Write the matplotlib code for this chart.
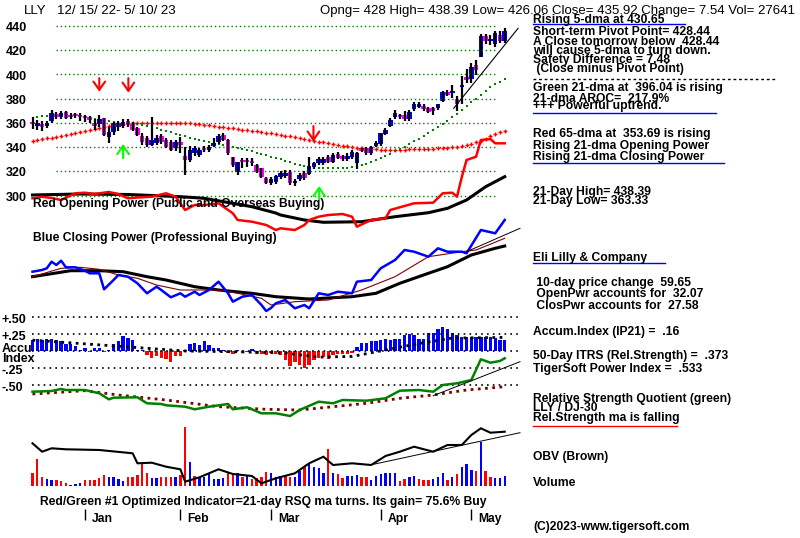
import matplotlib
matplotlib.use("Agg")
import matplotlib.pyplot as plt
from matplotlib.lines import Line2D

# ---- data (LLY daily, 12/15/22 - 5/10/23, 100 sessions) ----
opens = [360.3, 357.5, 358.4, 357.5, 361.9, 367.4, 364.7, 369.3, 366.6, 367.4,
         366.6, 365.8, 364.7, 360.3, 359.2, 363.8, 348.7, 352.9, 356.4, 357.5,
         361.9, 359.2, 355.6, 349.3, 347.4, 341.9, 343.2, 349.3, 346.0, 344.6,
         339.1, 343.2, 332.8, 329.5, 335.0, 333.6, 339.1, 337.7, 341.0, 344.6,
         350.1, 346.0, 331.7, 319.9, 328.5, 328.3, 328.1, 325.4, 322.6, 314.4,
         310.5, 311.0, 315.7, 316.3, 319.9, 310.2, 313.5, 318.5, 318.0, 323.4,
         326.7, 326.7, 332.2, 328.1, 334.2, 332.8, 330.1, 332.2, 326.7, 338.3,
         339.1, 335.5, 341.0, 342.7, 350.9, 357.8, 364.7, 366.6, 366.6, 363.0,
         371.3, 373.5, 374.0, 372.6, 371.3, 372.1, 378.4, 385.9, 385.0, 379.8,
         389.8, 398.2, 396.0, 407.8, 414.7, 431.8, 427.5, 425.2, 432.6, 428.0]
closes = [359.2, 360.3, 357.0, 360.3, 368.0, 364.7, 368.0, 363.8, 365.2, 365.8,
          364.7, 363.8, 362.5, 357.5, 363.0, 350.1, 352.9, 359.7, 359.7, 361.1,
          358.4, 354.2, 350.1, 344.6, 341.9, 346.0, 347.4, 344.6, 340.5, 337.7,
          344.6, 342.2, 329.5, 337.7, 339.1, 337.7, 337.7, 340.5, 343.8, 349.3,
          346.0, 335.0, 325.4, 328.1, 327.8, 327.5, 327.0, 319.9, 315.7, 310.8,
          314.0, 316.0, 318.5, 319.0, 310.2, 312.4, 317.1, 314.4, 324.5, 326.7,
          330.6, 330.0, 328.1, 333.6, 330.9, 330.6, 332.8, 336.4, 335.0, 337.2,
          335.5, 339.9, 343.8, 351.5, 354.2, 362.5, 368.5, 365.2, 363.0, 369.4,
          375.4, 374.8, 371.3, 369.4, 370.2, 375.4, 385.9, 383.1, 385.5, 375.7,
          390.5, 395.4, 406.5, 403.7, 431.8, 427.9, 428.5, 434.0, 427.9, 435.92]
highs = [364.7, 362.5, 362.0, 362.0, 370.7, 369.0, 369.5, 370.0, 368.0, 368.5,
         368.0, 367.0, 366.0, 363.0, 366.5, 364.0, 357.0, 361.0, 362.0, 363.0,
         363.0, 361.0, 357.0, 351.5, 349.0, 365.2, 350.0, 351.0, 348.0, 346.0,
         346.0, 348.7, 340.5, 341.0, 341.0, 339.0, 341.0, 342.0, 347.4, 351.0,
         351.5, 347.0, 332.2, 328.1, 330.9, 330.9, 330.9, 326.0, 323.0, 315.7,
         315.5, 317.0, 320.0, 321.0, 321.0, 314.0, 318.5, 320.0, 332.2, 328.0,
         332.0, 332.0, 334.0, 335.0, 336.0, 334.0, 335.0, 338.0, 336.4, 339.0,
         340.0, 341.0, 345.0, 352.0, 356.0, 364.0, 371.0, 367.5, 370.0, 371.0,
         377.0, 377.0, 376.0, 373.5, 373.0, 376.0, 386.6, 387.0, 391.3, 382.3,
         398.8, 404.2, 409.2, 412.0, 433.4, 433.4, 432.6, 436.2, 436.2, 438.39]
lows = [354.8, 354.2, 353.0, 356.0, 360.0, 363.0, 363.5, 363.0, 363.0, 364.0,
        362.0, 361.0, 360.0, 354.2, 357.0, 349.0, 343.2, 350.0, 353.0, 356.0,
        357.0, 353.0, 349.0, 341.9, 340.5, 341.0, 342.0, 343.0, 339.0, 337.0,
        337.0, 335.0, 317.1, 328.0, 333.0, 332.0, 336.0, 336.0, 340.5, 343.0,
        345.0, 334.0, 324.0, 317.1, 322.6, 324.0, 324.5, 319.0, 315.0, 309.5,
        309.0, 309.5, 314.0, 315.0, 309.0, 308.0, 312.0, 313.0, 317.0, 322.0,
        325.0, 325.0, 327.0, 327.0, 330.0, 329.0, 329.0, 330.0, 321.8, 336.0,
        334.0, 334.0, 340.0, 341.0, 350.0, 357.0, 363.0, 363.0, 362.0, 361.5,
        370.0, 372.0, 370.0, 368.0, 366.6, 371.0, 377.6, 382.3, 380.4, 370.2,
        376.0, 392.7, 392.7, 399.6, 414.2, 425.2, 424.3, 423.0, 425.7, 426.06]

ma21 = [364.5, 365.0, 365.5, 366.0, 366.5, 367.0, 367.3, 367.5, 367.5, 367.0,
        366.0, 365.0, 364.3, 363.6, 363.0, 362.4, 361.8, 361.2, 360.7, 360.3,
        360.0, 359.6, 359.0, 358.2, 357.3, 356.4, 355.5, 354.5, 353.4, 352.3,
        351.2, 350.1, 349.0, 348.0, 347.0, 346.2, 345.4, 344.6, 343.8, 343.0,
        342.1, 341.2, 340.3, 339.4, 338.5, 337.6, 336.6, 335.6, 334.5, 333.4,
        332.3, 331.2, 330.0, 328.8, 327.6, 326.5, 325.6, 324.8, 324.1, 323.6,
        323.2, 322.9, 322.7, 322.6, 322.6, 322.7, 323.0, 323.4, 324.0, 325.0,
        326.4, 328.0, 329.6, 331.3, 333.0, 334.8, 336.6, 338.6, 340.6, 342.7,
        344.8, 347.0, 349.4, 351.8, 354.2, 356.8, 359.4, 362.0, 364.8, 367.7,
        370.7, 373.8, 377.0, 380.2, 383.4, 386.6, 389.5, 391.9, 394.0, 396.04]
ma65 = [345.2, 345.9, 346.6, 347.3, 348.0, 348.7, 349.5, 350.3, 351.1, 351.9,
        352.7, 353.4, 354.2, 355.0, 355.8, 356.6, 357.3, 358.0, 358.7, 359.2,
        359.6, 359.9, 360.1, 360.2, 360.3, 360.3, 360.3, 360.3, 360.3, 360.3,
        360.2, 360.1, 360.0, 359.8, 359.5, 359.1, 358.6, 358.1, 357.6, 357.1,
        356.6, 356.1, 355.6, 355.1, 354.6, 354.1, 353.6, 353.1, 352.6, 352.1,
        351.5, 350.9, 350.3, 349.6, 348.9, 348.2, 347.5, 346.8, 346.1, 345.4,
        344.7, 344.0, 343.3, 342.6, 342.0, 341.4, 340.8, 340.2, 339.6, 339.1,
        338.7, 338.4, 338.2, 338.0, 337.9, 337.9, 337.9, 338.0, 338.1, 338.2,
        338.3, 338.4, 338.5, 338.7, 338.9, 339.1, 339.4, 339.7, 340.1, 340.6,
        341.2, 341.9, 342.8, 344.0, 345.5, 347.2, 349.0, 350.8, 352.4, 353.69]

price_levels = [440, 420, 400, 380, 360, 340, 320, 300]
price_trend_days = [88.3, 101.8]
price_trend_vals = [372.1, 438.1]

# opening power (red) and its ma (black)
op_days = [0, 2, 4, 6, 9, 11, 13, 16, 18, 20, 22, 25, 28, 30, 32, 34, 36, 39, 42, 43,
           46, 49, 51, 52, 55, 57, 58, 60, 62, 65, 67, 68, 71, 74, 75, 80, 84, 86, 88, 89,
           90, 91, 93, 94, 96, 97, 99]
op_vals = [16.7, 18.3, 17, 15, 21.7, 22.3, 21, 23, 21, 16.7, 17.5, 18.3, 21.7, 18.3, 5, 10, 10, 11.7, 1.7, -5,
           -6.7, -10, -15, -13.3, -15, -10, -5, -1.7, 0, 1, -1.7, -11.7, -5, -3.3, 5, 11.7, 12.3, 21.7, 22.3, 18.3,
           38, 55, 58.3, 75, 76, 71.7, 71.7]
op_ma_days = [0, 10, 20, 25, 31, 36, 41, 46, 51, 52, 57, 61, 69, 76, 83, 87, 91, 95, 99]
op_ma_vals = [20, 21, 20.5, 19.5, 18.3, 16.7, 12.5, 8.3, 2, 0, -5, -7.3, -6.7, -1.7, 2.3, 6.7, 15, 28.3, 38.3]

# closing power (blue), its ma (black) and short ma (brown)
cp_days = [0, 2, 3, 4, 5, 6, 7, 9, 11, 12, 14, 15, 17, 18, 20, 22, 24, 26, 27, 29,
           31, 32, 34, 35, 37, 39, 41, 42, 44, 46, 48, 49, 50, 51, 53, 55, 57, 58, 60, 62,
           64, 67, 68, 71, 73, 76, 78, 80, 83, 85, 87, 90, 91, 94, 97, 98, 99]
cp_vals = [48.3, 50, 51.7, 58.3, 55, 59.3, 52.7, 52.7, 49.3, 46.7, 46.7, 30.7, 40, 45, 43.3, 36.7, 26.7, 33.3, 30, 22.7,
           26.7, 23.3, 28.3, 25, 30, 38.3, 26.7, 18.3, 23.3, 25, 15, 9, 12, 16.7, 20, 11.7, 15, 11.7, 26.7, 25,
           28.3, 26.7, 38.3, 40, 51.7, 60, 70, 68.3, 63.3, 71.7, 68.3, 68.3, 66.7, 90, 86.7, 93.3, 100]
cp_ma_days = [0, 8, 14, 19, 24, 28, 34, 39, 46, 51, 58, 67, 72, 77, 83, 87, 92, 97, 99]
cp_ma_vals = [43.3, 49.3, 49.3, 48.3, 43.3, 40, 33.3, 30, 26.7, 23.3, 21, 23.3, 26.7, 36.7, 46.7, 53.3, 65, 71.7, 74]
cp_ma2_days = [0, 6, 10, 14, 18, 22, 26, 31, 39, 43, 48, 50, 55, 62, 69, 76, 83, 90, 93, 99]
cp_ma2_vals = [43.3, 51.7, 52.7, 50.7, 45, 41.7, 35, 30, 30, 26.7, 21.7, 15, 18.3, 20, 30, 43.3, 63.3, 68.3, 70, 81.7]
cp_trend_days = [91.0, 102.2]
cp_trend_vals = [68.3, 91.7]

# accumulation index (IP21)
ip21 = [0.16, 0.17, 0.16, 0.17, 0.17, 0.16, 0.15, 0.11, 0.11, 0.07,
        0.02, 0.05, -0.01, 0.05, 0.05, -0.02, 0.02, 0.11, 0.14, 0.22,
        0.19, 0.16, 0.02, 0.01, -0.06, -0.11, -0.08, -0.11, -0.12, -0.16,
        -0.08, -0.08, 0.02, 0.11, 0.12, 0.09, 0.14, 0.09, 0.04, 0.04,
        0.015, -0.025, -0.045, 0.015, -0.025, -0.02, 0.025, -0.045, -0.045, -0.06,
        -0.035, -0.045, -0.06, -0.13, -0.22, -0.16, -0.21, -0.255, -0.21, -0.13,
        -0.11, -0.09, -0.12, -0.06, -0.05, -0.05, -0.05, -0.035, 0.06, 0.12,
        0.12, 0.14, 0.15, 0.16, 0.17, 0.16, 0.17, 0.17, 0.235, 0.245,
        0.235, 0.17, 0.17, 0.26, 0.27, 0.32, 0.36, 0.33, 0.27, 0.235,
        0.21, 0.2, 0.2, 0.2, 0.21, 0.21, 0.2, 0.19, 0.16, 0.16]
ip21_ma_days = [0, 14, 32, 42, 53, 60, 67, 74, 81, 88, 99]
ip21_ma_vals = [0.16, 0.09, 0.0, -0.01, -0.03, -0.09, -0.08, 0.015, 0.11, 0.19, 0.2]
accum_levels = [0.5, 0.25, 0.0, -0.25, -0.5]
accum_labels = ["+.50", "+.25", "", "-.25", "-.50"]

# relative strength quotient (green) and its ma
rs_days = [0, 4, 6, 7, 11, 14, 16, 17, 22, 24, 27, 28, 32, 34, 37, 41, 42, 45, 48, 51,
           54, 56, 60, 63, 65, 70, 74, 77, 81, 84, 86, 89, 92, 94, 96, 98, 99]
rs_vals = [28.3, 29, 31, 30, 30, 26.7, 20.7, 22.3, 22.7, 16.7, 16, 14.7, 13.3, 10.7, 13.3, 16, 10.7, 12.7, 6.7, 6.7,
           4, 10, 18.3, 16.7, 20, 19.3, 21.7, 29.3, 30, 28.3, 35, 36.7, 40, 60.7, 57.3, 59, 61.7]
rs_ma_days = [0, 11, 18, 28, 39, 49, 56, 63, 70, 77, 84, 91, 99]
rs_ma_vals = [26, 29.3, 25, 20, 13.3, 10.7, 10, 13.3, 16.7, 21.7, 25, 30, 33.3]
rs_trend_days = [84.0, 102.2]
rs_trend_vals = [24.3, 58.3]

# OBV and volume (thousands of shares)
obv_days = [0, 2, 4, 7, 14, 21, 22, 25, 28, 31, 32, 35, 39, 42, 46, 48, 51, 55, 58, 61,
            63, 67, 71, 74, 77, 80, 84, 87, 90, 92, 94, 96, 99]
obv_vals = [46.7, 38.3, 41.7, 40.7, 40, 36.7, 26.7, 27.3, 23.3, 20.7, 8.3, 12.7, 20.7, 16, 14, 6.7, 11.7, 16.7, 26.7, 33.3,
            25, 26.7, 25, 34, 38.3, 43.3, 38.3, 45, 45, 55, 61.7, 57.3, 58.3]
obv_trend_days = [70.8, 102.2]
obv_trend_vals = [25.0, 57.3]
volume = [35, 74, 24, 18, 17, 17, 15, 7, 3, 6, 7, 17, 17, 17, 21, 30, 24, 24, 18, 15,
          24, 24, 30, 63, 37, 21, 21, 24, 24, 24, 24, 30, 164, 67, 28, 24, 26, 33, 18, 18,
          21, 37, 37, 37, 26, 30, 18, 21, 26, 40, 37, 26, 28, 30, 24, 24, 42, 52, 61, 53,
          49, 37, 101, 37, 33, 21, 28, 28, 30, 24, 24, 17, 28, 33, 37, 37, 37, 15, 18, 24,
          28, 18, 17, 17, 18, 26, 37, 17, 24, 33, 53, 61, 44, 42, 122, 42, 24, 21, 21, 28]
vol_up = [0, 0, 0, 1, 1, 0, 0, 0, 1, 1, 1, 0, 0, 0, 0, 0, 1, 1, 1, 1,
          0, 0, 0, 0, 0, 1, 1, 0, 0, 0, 1, 0, 0, 1, 0, 1, 1, 1, 1, 1,
          1, 0, 0, 1, 0, 1, 0, 0, 0, 0, 1, 1, 1, 0, 0, 1, 1, 0, 1, 1,
          1, 1, 0, 1, 0, 0, 1, 1, 1, 0, 0, 1, 1, 1, 1, 1, 1, 0, 0, 1,
          1, 0, 0, 0, 1, 1, 1, 0, 1, 0, 1, 1, 1, 0, 1, 0, 0, 1, 1, 1]

month_names = ["Jan", "Feb", "Mar", "Apr", "May"]
month_start = [11, 31, 50, 73, 92]

# signal arrows (day, from, to) in price units
sell_arrows = [(14.0, 397.0, 385.8), (20.1, 397.0, 385.0), (58.9, 357.5, 344.6)]
buy_arrows = [(19.0, 331.0, 342.7), (60.1, 297.0, 308.0)]

# ---- layout helpers (pixel based) ----
W, H = 800, 538
PX0, PXD = 32.5, 4.77          # x pixel of day 0, pixels per day
X0, X1 = -PX0 / PXD, (W - PX0) / PXD
BLUE, RED, MAG, GRN = "#0000ff", "#ff0000", "#ff00ff", "#008000"
BROWN = "#800000"
FONT = ["Liberation Sans", "DejaVu Sans"]

fig = plt.figure(figsize=(W / 100, H / 100), dpi=100)
fig.patch.set_facecolor("white")


def px2i(x):
    return (x - PX0) / PXD


def panel(top, bot, vtop, vbot):
    ax = fig.add_axes([0, 1 - bot / H, 1, (bot - top) / H])
    ax.set_xlim(X0, X1)
    ax.set_ylim(vbot, vtop)
    ax.axis("off")
    ax.patch.set_alpha(0)
    return ax


days = list(range(len(closes)))

# ---- price panel ----
pr = panel(0, 215, 440 + 26 / 1.2125, 440 - 189 / 1.2125)
pr.hlines(price_levels, px2i(56), px2i(497), colors=GRN, linestyles=(0, (1, 2)), lw=1)
pr.plot(days, ma65, ls="none", marker="+", ms=3.2, mew=1.0, color=RED)
pr.plot(days, ma21, ls="none", marker="s", ms=1.7, mew=0, color=GRN)
for i in days:
    pr.vlines(i, lows[i], highs[i], color="black", lw=1.6)
    o, c = opens[i], closes[i]
    pr.bar(i, max(abs(c - o), 1.8), bottom=min(o, c), width=0.95,
           color=BLUE if c >= o else MAG, lw=0)
pr.plot(price_trend_days, price_trend_vals, color="black", lw=0.8)
arrow_style = "->,head_length=0.5,head_width=0.35"
for d, y0, y1 in sell_arrows:
    pr.annotate("", xy=(d, y1), xytext=(d, y0),
                arrowprops=dict(arrowstyle=arrow_style, color=RED, lw=1.5, mutation_scale=12,
                                shrinkA=0, shrinkB=0))
for d, y0, y1 in buy_arrows:
    pr.annotate("", xy=(d, y1), xytext=(d, y0),
                arrowprops=dict(arrowstyle=arrow_style, color="#00ff00", lw=1.5, mutation_scale=12,
                                shrinkA=0, shrinkB=0))

# ---- opening power ----
op = panel(130, 240, 85, -25)
op.plot(op_ma_days, op_ma_vals, color="black", lw=2.2)
op.plot(op_days, op_vals, color=RED, lw=1.8)

# ---- closing power ----
cp = panel(210, 320, 110, 0)
cp.plot(cp_ma_days, cp_ma_vals, color="black", lw=2.2)
cp.plot(cp_ma2_days, cp_ma2_vals, color=BROWN, lw=0.8)
cp.plot(cp_days, cp_vals, color=BLUE, lw=1.8)
cp.plot(cp_trend_days, cp_trend_vals, color="black", lw=0.7)

# ---- accumulation index ----
ac = panel(300, 400, 51 / 68, -49 / 68)
ac.hlines(accum_levels, px2i(32), px2i(520), colors="black", linestyles=(0, (1, 2.5)), lw=1.2)
ac.bar(days, ip21, width=0.7, color=[BLUE if v >= 0 else RED for v in ip21], lw=0)
ac.plot(ip21_ma_days, ip21_ma_vals, color="black", ls=(0, (1, 1.6)), lw=2)

# ---- relative strength ----
rs = panel(340, 425, 80, -5)
rs.plot(rs_ma_days, rs_ma_vals, color=BROWN, ls=(0, (1, 1.6)), lw=2)
rs.plot(rs_days, rs_vals, color=GRN, lw=1.8)
rs.plot(rs_trend_days, rs_trend_vals, color="black", lw=0.7)

# ---- volume + OBV ----
vo = panel(420, 486, 182.2, 0)
vo.bar(days, volume, width=0.5, color=[BLUE if u else RED for u in vol_up], lw=0)
ob = panel(420, 490, 70, 0)
ob.plot(obv_days, obv_vals, color="black", lw=1.5)
ob.plot(obv_trend_days, obv_trend_vals, color="black", lw=0.7)

# ---- month ticks ----
mo = panel(505, 525, 1, 0)
mo.vlines(month_start, 0.25, 0.8, color="black", lw=1)
for d, name in zip(month_start, month_names):
    mo.text(d + 1.5, 0.3, name, fontsize=8.7, fontweight="bold", family=FONT, va="center")

# ---- text overlay ----
tx = fig.add_axes([0, 0, 1, 1])
tx.set_xlim(0, W)
tx.set_ylim(H, 0)
tx.axis("off")
tx.patch.set_alpha(0)


def t(x, y, s, size=8.7, bold=True, **kw):
    tx.text(x, y, s, fontsize=size, fontweight="bold" if bold else "normal",
            family=FONT, va="center", ha="left", **kw)


t(24, 11, "LLY", size=9.5, bold=False)
t(57, 11, "12/ 15/ 22- 5/ 10/ 23", size=9.5, bold=False)
t(320, 11, "Opng= 428 High= 438.39 Low= 426.06 Close= 435.92 Change= 7.54 Vol= 27641",
  size=9.5, bold=False)

for lv in price_levels:
    t(6, 26 + (440 - lv) * 1.2125 + 2, str(lv), size=9)

t(33, 203.5, "Red Opening Power (Public and Overseas Buying)")
t(33, 238, "Blue Closing Power (Professional Buying)")

for lv, lab in zip(accum_levels, accum_labels):
    if lab:
        t(2, 351 - lv * 68 + 3, lab, size=9)
t(2, 349, "Accu", size=9)
t(2, 358.5, "Index", size=9)

t(40, 502, "Red/Green #1 Optimized Indicator=21-day RSQ ma turns. Its gain= 75.6% Buy")

right = [
    (20.5, "Rising 5-dma at 430.65"),
    (32.3, "Short-term Pivot Point= 428.44"),
    (41.7, "A Close tomorrow below  428.44"),
    (51.5, "will cause 5-dma to turn down."),
    (60.0, "Safety Difference = 7.48"),
    (69.3, " (Close minus Pivot Point)"),
    (88.3, "Green 21-dma at  396.04 is rising"),
    (99.3, "21-dma AROC=  217.9%"),
    (106.3, "+++ Powerful uptrend."),
    (134.3, "Red 65-dma at  353.69 is rising"),
    (146.0, "Rising 21-dma Opening Power"),
    (156.7, "Rising 21-dma Closing Power"),
    (191.7, "21-Day High= 438.39"),
    (201.0, "21-Day Low= 363.33"),
    (258.3, "Eli Lilly & Company"),
    (282.7, " 10-day price change  59.65"),
    (294.0, " OpenPwr accounts for  32.07"),
    (306.0, " ClosPwr accounts for  27.58"),
    (332.3, "Accum.Index (IP21) =  .16"),
    (356.0, "50-Day ITRS (Rel.Strength) =  .373"),
    (369.3, "TigerSoft Power Index =  .533"),
    (399.0, "Relative Strength Quotient (green)"),
    (408.3, "LLY / DJ-30"),
    (418.3, "Rel.Strength ma is falling"),
    (456.7, "OBV (Brown)"),
    (482.7, "Volume"),
    (526.7, "(C)2023-www.tigersoft.com"),
]
for y, s in right:
    t(533, y, s)

for y, x1, col, ls in [(24, 685, BLUE, "-"), (79.3, 777, "black", (0, (2, 2))),
                       (112.7, 716, BLUE, "-"), (163.3, 724, BLUE, "-"),
                       (263.3, 665, BLUE, "-"), (425.7, 677, RED, "-")]:
    tx.add_line(Line2D([533, x1], [y, y], color=col, lw=1, ls=ls))

fig.savefig("out.png", dpi=100, facecolor="white")
